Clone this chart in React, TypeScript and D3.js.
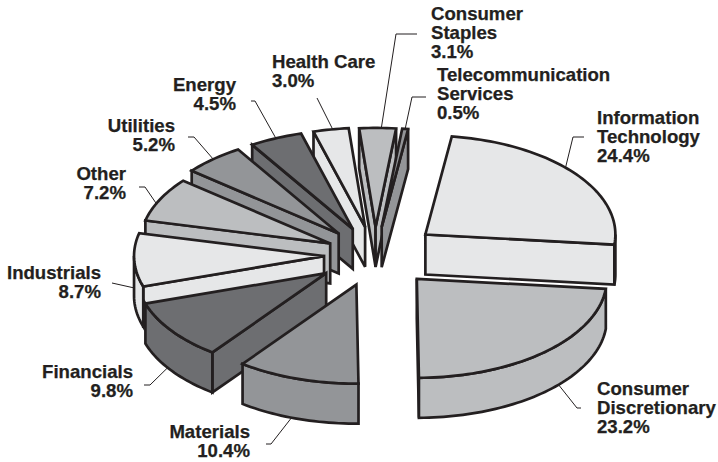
import React from "react";
import * as d3 from "d3";

// Sector weights, in clockwise order from the top of the pie.
const sectors = [
  "Information Technology",
  "Consumer Discretionary",
  "Materials",
  "Financials",
  "Industrials",
  "Other",
  "Utilities",
  "Energy",
  "Health Care",
  "Consumer Staples",
  "Telecommunication Services",
];
const weights = [24.4, 23.2, 10.4, 9.8, 8.7, 7.2, 5.2, 4.5, 3.0, 3.1, 0.5];

// Wedge look: fill greys cycle, and each wedge is pulled out by its own amount.
const greys = ["#e6e7e8", "#bcbec0", "#939598", "#6d6e71"];
const explode = [64, 62, 60, 60, 51, 50, 55, 55, 55, 54, 54];
// Where along its rim each wedge's leader line attaches (0..1), and how far down the wall.
const leaderAlong = [0.45, 0.43, 0.55, 0.56, 0.5, 0.4, 0.5, 0.5, 0.55, 0.6, 0.5];
const leaderDrop = [0, 40, 40, 40, 28, 0, 0, 0, 0, 0, 0];

// Text block for each wedge: split lines, anchor and first baseline.
const labelLines = [
  ["Information", "Technology", "24.4%"],
  ["Consumer", "Discretionary", "23.2%"],
  ["Materials", "10.4%"],
  ["Financials", "9.8%"],
  ["Industrials", "8.7%"],
  ["Other", "7.2%"],
  ["Utilities", "5.2%"],
  ["Energy", "4.5%"],
  ["Health Care", "3.0%"],
  ["Consumer", "Staples", "3.1%"],
  ["Telecommunication", "Services", "0.5%"],
];
const labelAt: [number, number, string][] = [
  [597, 124, "start"],
  [597, 395, "start"],
  [250, 438, "end"],
  [133, 378, "end"],
  [101, 279, "end"],
  [126, 180, "end"],
  [175, 132, "end"],
  [236, 91, "end"],
  [272, 68, "start"],
  [431, 20, "start"],
  [437, 81, "start"],
];
// Elbows of the leader lines, running from the rim out to the text.
const leaderRuns: [number, number][][] = [
  [[573, 137], [584, 137]],
  [[577, 408], [581, 408]],
  [[271, 444], [266, 444]],
  [[150, 385], [144, 385]],
  [[112, 283]],
  [[145, 187], [139, 187]],
  [[194, 137], [188, 137]],
  [[255, 101], [251, 101]],
  [[317, 98]],
  [[396, 34], [417, 34]],
  [[412, 97], [426, 97]],
];

const W = 718;
const H = 462;
const cx = 375;
const cy = 255;
const rx = 190;
const ry = 99;
const squash = 0.52;
const depth = 40;
const deg = Math.PI / 180;
const ink = "#231f20";
const lineHeight = 19.2;

const wedges = d3
  .pie<number>()
  .sort(null)
  .value((d) => d)
  .startAngle(8 * deg)
  .endAngle(368 * deg)(weights);

const line = d3.line<[number, number]>();

function arcPoints(a0: number, a1: number, ax: number, ay: number, dy = 0) {
  const n = Math.max(2, Math.ceil(Math.abs(a1 - a0) / (1.5 * deg)));
  const t = d3.scaleLinear().domain([0, n]).range([a0, a1]);
  return d3.range(n + 1).map((i): [number, number] => [
    ax + rx * Math.sin(t(i)),
    ay - ry * Math.cos(t(i)) + dy,
  ]);
}

function wedgeShapes(i: number) {
  const { startAngle: a0, endAngle: a1 } = wedges[i];
  const mid = (a0 + a1) / 2;
  const ax = cx + explode[i] * Math.sin(mid);
  const ay = cy - explode[i] * Math.cos(mid) * squash;
  const top = arcPoints(a0, a1, ax, ay);
  const face = line([[ax, ay], ...top])! + "Z";
  const walls: string[] = [];
  const radialWall = (a: number) => {
    const p: [number, number] = [ax + rx * Math.sin(a), ay - ry * Math.cos(a)];
    return (
      line([
        [ax, ay],
        p,
        [p[0], p[1] + depth],
        [ax, ay + depth],
      ])! + "Z"
    );
  };
  // A cut edge shows its wall only when that wall turns toward the viewer.
  if (Math.sin(a0) < 0) walls.push(radialWall(a0));
  if (Math.sin(a1) > 0) walls.push(radialWall(a1));
  // The outer rim shows wherever it runs along the lower half of the ellipse.
  const lo = Math.max(a0, 90 * deg);
  const hi = Math.min(a1, 270 * deg);
  if (hi > lo) {
    const upper = arcPoints(lo, hi, ax, ay);
    const lower = arcPoints(hi, lo, ax, ay, depth);
    walls.push(line([...upper, ...lower])! + "Z");
  }
  const at = a0 + (a1 - a0) * leaderAlong[i];
  const start: [number, number] = [
    ax + rx * Math.sin(at),
    ay - ry * Math.cos(at) + leaderDrop[i],
  ];
  return { face, walls, leader: line([start, ...leaderRuns[i]])! };
}

const shapes = sectors.map((_, i) => wedgeShapes(i));
// Paint from the back of the pie toward the viewer.
const paintOrder = [9, 10, 8, 7, 6, 5, 4, 3, 2, 0, 1];

export default function App() {
  return (
    <svg
      width={W}
      height={H}
      viewBox={`0 0 ${W} ${H}`}
      style={{ position: "absolute", left: 0, top: 0, background: "#fff" }}
      fontFamily="'Liberation Sans', Arial, sans-serif"
    >
      {paintOrder.map((i) => (
        <g key={sectors[i]} stroke={ink} strokeWidth={2.7} strokeLinejoin="miter" fill={greys[i % 4]}>
          {shapes[i].walls.map((d, k) => (
            <path key={k} d={d} />
          ))}
          <path d={shapes[i].face} />
        </g>
      ))}
      {shapes.map((s, i) => (
        <path key={i} d={s.leader} fill="none" stroke={ink} strokeWidth={1} />
      ))}
      {labelLines.map((rows, i) => (
        <text
          key={i}
          x={labelAt[i][0]}
          y={labelAt[i][1]}
          textAnchor={labelAt[i][2]}
          fontSize={18.6}
          fontWeight="bold"
          fill={ink}
          stroke={ink}
          strokeWidth={0.25}
        >
          {rows.map((r, k) => (
            <tspan key={k} x={labelAt[i][0]} dy={k === 0 ? 0 : lineHeight}>
              {r}
            </tspan>
          ))}
        </text>
      ))}
    </svg>
  );
}
